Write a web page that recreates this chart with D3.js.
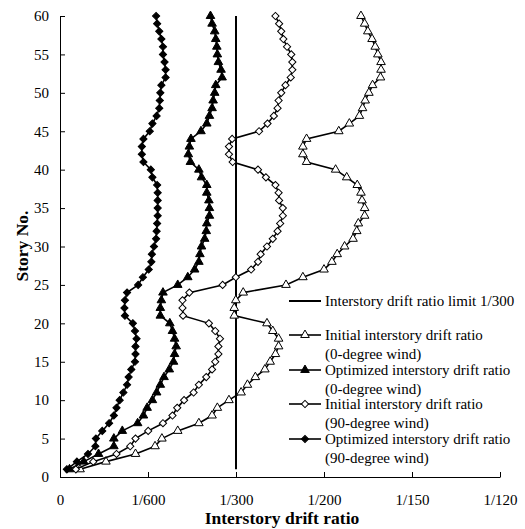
<!DOCTYPE html>
<html>
<head>
<meta charset="utf-8">
<script src="https://cdnjs.cloudflare.com/ajax/libs/d3/7.8.5/d3.min.js"></script>
<style>
  body { margin: 0; background: #fff; }
  text { font-family: "Times New Roman", "Liberation Serif", serif; fill: #000; }
</style>
</head>
<body>
<svg id="chart"></svg>
<script>
// stories 1..60
var stories = d3.range(1, 61);

// interstory drift ratio, x 1000
var initial0 = [0.38,0.87,1.43,1.80,1.93,2.23,2.63,2.88,2.98,3.20,
  3.43,3.55,3.70,3.88,3.98,4.08,4.14,4.14,4.03,3.92,
  3.30,3.30,3.33,3.47,4.28,4.60,5.00,5.15,5.25,5.39,
  5.55,5.62,5.65,5.77,5.77,5.72,5.70,5.63,5.43,5.22,
  4.67,4.60,4.60,4.67,5.28,5.48,5.67,5.73,5.78,5.85,
  5.92,6.07,6.08,6.08,6.02,5.97,5.91,5.83,5.77,5.70];

var optimized0 = [0.18,0.45,0.73,1.02,1.02,1.18,1.47,1.58,1.65,1.75,
  1.83,1.90,1.97,2.07,2.15,2.17,2.20,2.17,2.13,2.08,
  1.90,1.90,1.92,1.95,2.23,2.42,2.55,2.63,2.65,2.68,
  2.74,2.77,2.78,2.83,2.83,2.82,2.78,2.78,2.68,2.63,
  2.47,2.43,2.45,2.48,2.67,2.78,2.83,2.88,2.90,2.93,
  2.95,3.07,3.05,3.00,2.98,2.97,2.95,2.93,2.88,2.85];

var initial90 = [0.30,0.63,1.07,1.33,1.43,1.67,1.95,2.13,2.22,2.35,
  2.53,2.63,2.77,2.88,2.94,3.00,3.00,3.03,2.94,2.82,
  2.33,2.32,2.32,2.45,3.08,3.33,3.62,3.75,3.80,3.92,
  4.03,4.12,4.17,4.22,4.22,4.15,4.14,4.08,3.90,3.75,
  3.27,3.20,3.20,3.26,3.77,3.93,4.05,4.12,4.14,4.19,
  4.27,4.37,4.40,4.40,4.38,4.30,4.23,4.19,4.15,4.08];

var optimized90 = [0.13,0.32,0.53,0.67,0.68,0.80,0.93,1.02,1.07,1.13,
  1.20,1.27,1.30,1.35,1.42,1.43,1.43,1.45,1.42,1.38,
  1.23,1.22,1.23,1.27,1.48,1.57,1.68,1.73,1.74,1.78,
  1.82,1.83,1.84,1.85,1.85,1.85,1.85,1.84,1.75,1.72,
  1.58,1.55,1.55,1.58,1.70,1.75,1.83,1.88,1.89,1.90,
  1.92,2.00,2.00,1.98,1.95,1.95,1.92,1.88,1.84,1.82];

// limit 1/300 drawn from story 1 to 60
var limitValue = 1000 / 300;
var limitStories = [1, 60];

// x tick labels
var tickDenoms = [600, 300, 200, 150, 120];
var tickLabels = ["0", "1/600", "1/300", "1/200", "1/150", "1/120"];
var yTicks = d3.range(0, 61, 5);

var w = 525, h = 529;
var mLeft = 60, mRight = 500, mTop = 16, mBottom = 477;

var svg = d3.select("#chart")
    .attr("width", w)
    .attr("height", h);

var x = d3.scaleLinear().domain([0, 1000 / 120]).range([mLeft, mRight]);
var y = d3.scaleLinear().domain([0, 60]).range([mBottom, mTop]);

var xTickVals = [0].concat(tickDenoms.map(function(d) { return 1000 / d; }));

//X axis, ticks point up
var xAxis = d3.axisBottom(x)
    .tickValues(xTickVals)
    .tickFormat(function(d, i) { return tickLabels[i]; })
    .tickSize(-5)
    .tickSizeOuter(0)
    .tickPadding(17);

//Y axis, ticks point right
var yAxis = d3.axisLeft(y)
    .tickValues(yTicks)
    .tickSize(-5)
    .tickSizeOuter(0)
    .tickPadding(11);

var gx = svg.append("g")
    .attr("transform", "translate(0," + mBottom + ")")
    .call(xAxis);
var gy = svg.append("g")
    .attr("transform", "translate(" + mLeft + ",0)")
    .call(yAxis);

[gx, gy].forEach(function(g) {
    g.selectAll("path, line").attr("stroke", "#000").attr("stroke-width", 1);
    g.selectAll("text")
        .style("font-family", "'Times New Roman', 'Liberation Serif', serif")
        .style("font-size", "15px")
        .attr("fill", "#000");
});

// axis titles
svg.append("text")
    .attr("x", 282)
    .attr("y", 524)
    .attr("text-anchor", "middle")
    .style("font-size", "17.5px")
    .style("font-weight", "bold")
    .text("Interstory drift ratio");

svg.append("text")
    .attr("transform", "translate(28,246) rotate(-90)")
    .attr("text-anchor", "middle")
    .style("font-size", "17.5px")
    .style("font-weight", "bold")
    .text("Story No.");

// limit line
svg.append("line")
    .attr("x1", x(limitValue)).attr("x2", x(limitValue))
    .attr("y1", y(limitStories[0])).attr("y2", y(limitStories[1]))
    .attr("stroke", "#000")
    .attr("stroke-width", 2);

var diamondPath = d3.symbol().type(d3.symbolSquare).size(26)();
var trianglePath = d3.symbol().type(d3.symbolTriangle).size(32)();

var series = [
    { name: "Initial interstory drift ratio", sub: "(0-degree wind)", values: initial0, shape: trianglePath, fill: "#fff", rot: 0 },
    { name: "Optimized interstory drift ratio", sub: "(0-degree wind)", values: optimized0, shape: trianglePath, fill: "#000", rot: 0 },
    { name: "Initial interstory drift ratio", sub: "(90-degree wind)", values: initial90, shape: diamondPath, fill: "#fff", rot: 45 },
    { name: "Optimized interstory drift ratio", sub: "(90-degree wind)", values: optimized90, shape: diamondPath, fill: "#000", rot: 45 }
];

var line = d3.line()
    .x(function(d) { return x(d[0]); })
    .y(function(d) { return y(d[1]); });

series.forEach(function(s) {
    var pts = s.values.map(function(v, i) { return [v, stories[i]]; });
    svg.append("path")
        .datum(pts)
        .attr("d", line)
        .attr("fill", "none")
        .attr("stroke", "#000")
        .attr("stroke-width", 1.6);
    svg.selectAll(null)
        .data(pts)
        .enter()
        .append("path")
        .attr("d", s.shape)
        .attr("transform", function(d) {
            return "translate(" + x(d[0]) + "," + y(d[1]) + ") rotate(" + s.rot + ")";
        })
        .attr("fill", s.fill)
        .attr("stroke", "#000")
        .attr("stroke-width", 1);
});

// legend
var lx0 = 289, lx1 = 321, tx = 325;
var legend = svg.append("g");

legend.append("line")
    .attr("x1", lx0).attr("x2", lx1)
    .attr("y1", 301).attr("y2", 301)
    .attr("stroke", "#000").attr("stroke-width", 2);
legend.append("text")
    .attr("x", tx).attr("y", 306)
    .style("font-size", "15px")
    .text("Interstory drift ratio limit 1/300");

var entryY = [335, 370, 404, 439];
series.forEach(function(s, i) {
    var yy = entryY[i];
    legend.append("line")
        .attr("x1", lx0).attr("x2", lx1)
        .attr("y1", yy).attr("y2", yy)
        .attr("stroke", "#000").attr("stroke-width", 1.6);
    legend.append("path")
        .attr("d", s.shape)
        .attr("transform", "translate(" + ((lx0 + lx1) / 2) + "," + yy + ") rotate(" + s.rot + ")")
        .attr("fill", s.fill)
        .attr("stroke", "#000");
    legend.append("text")
        .attr("x", tx).attr("y", yy + 5)
        .style("font-size", "15px")
        .text(s.name);
    legend.append("text")
        .attr("x", tx).attr("y", yy + 24)
        .style("font-size", "15px")
        .text(s.sub);
});
</script>
</body>
</html>
